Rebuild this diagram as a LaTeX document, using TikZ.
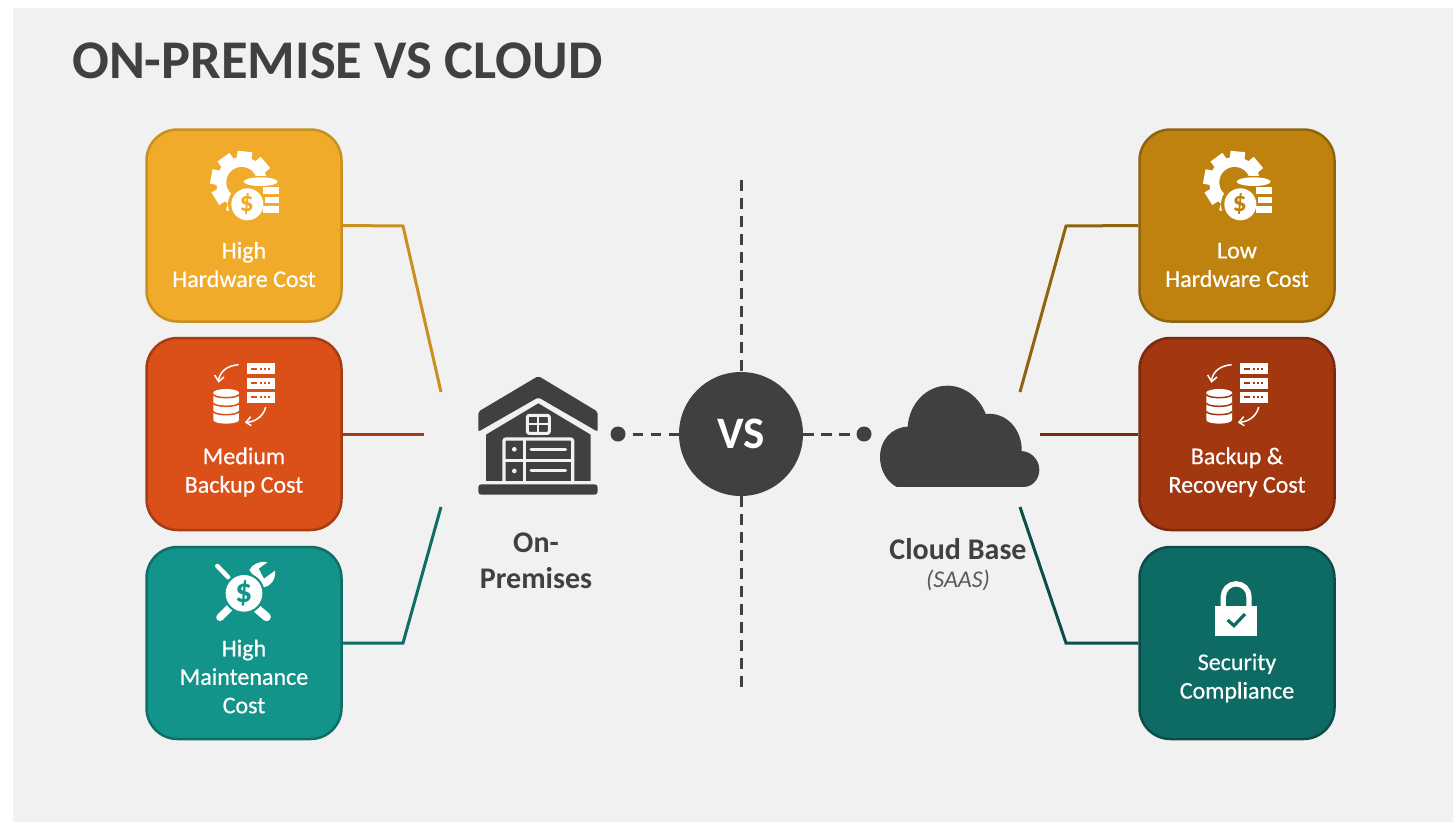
\documentclass[tikz,border=0pt]{standalone}
\usepackage{fontspec}
\setmainfont{Carlito}
\newfontfamily\boxfont[FakeBold=0.5]{Carlito}
\usepackage{xcolor}
\usetikzlibrary{positioning}

\definecolor{pagegray}{HTML}{F1F1F1}
\definecolor{inkgray}{HTML}{404040}
\definecolor{subgray}{HTML}{595959}
\definecolor{lhw}{HTML}{EFAB29}
\definecolor{lhwline}{HTML}{C99020}
\definecolor{lbk}{HTML}{DB4F18}
\definecolor{lbkline}{HTML}{A63C14}
\definecolor{lmt}{HTML}{12948A}
\definecolor{lmtline}{HTML}{0E6E66}
\definecolor{rhw}{HTML}{C0820E}
\definecolor{rhwline}{HTML}{8F640F}
\definecolor{rbk}{HTML}{A33710}
\definecolor{rbkline}{HTML}{7A2A0E}
\definecolor{rsc}{HTML}{0E6B64}
\definecolor{rscline}{HTML}{0A4E49}

\tikzset{
    costbox/.style={draw, rectangle, rounded corners=31pt, line width=2.5pt, minimum width=195pt, minimum height=192pt, inner sep=0pt},
    costtext/.style={text=white, align=center, font=\boxfont\fontsize{24}{28.5}\selectfont},
    sidetext/.style={text=inkgray, align=center, font=\bfseries\fontsize{30}{36}\selectfont},
    wire/.style={line width=3pt},
    axis/.style={inkgray, line width=3pt, dash pattern=on 10.5pt off 7.5pt},
    dotnode/.style={circle, fill=inkgray, inner sep=0pt, minimum size=15pt}
}

% Coin and gear icon: #1,#2 shift, #3 box colour, #4 name of dollar node
\newcommand{\coinicon}[4]{
    \begin{scope}[shift={(#1,#2)}, x=0.3333pt, y=-0.3333pt]
        \fill[white] (305,172) circle (76);
        \foreach \a in {27,68,106,148,191,234,276,320}
            \fill[white, rotate around={-\a:(305,172)}] (368,150) rectangle (398,194);
        \fill[#3] (305,172) circle (46);
        \fill[#3] (312,152) rectangle (425,275);
        \fill[#3] (322,238) circle (58);
        \fill[white] (322,238) circle (48);
        \fill[white] (362,170) ellipse (51 and 13);
        \fill[white] (370,187) rectangle (416,207);
        \fill[white] (375,216) rectangle (416,235);
        \fill[white] (370,244) rectangle (416,263);
        \node[text=#3, font=\bfseries\fontsize{28}{28}\selectfont, inner sep=0pt] (#4) at (320,236) {\$};
    \end{scope}
}

% Database and server icon
\newcommand{\backupicon}[3]{
    \begin{scope}[shift={(#1,#2)}, x=0.3333pt, y=-0.3333pt]
        \foreach \y in {85,128,170} {
            \fill[white] (320,\y) rectangle (406,\y+33);
            \fill[#3] (333,\y+13) rectangle (352,\y+19);
            \fill[#3] (360,\y+13) rectangle (367,\y+19);
            \fill[#3] (372,\y+13) rectangle (379,\y+19);
            \fill[#3] (384,\y+13) rectangle (391,\y+19);
        }
        \fill[white] (220,173) -- (220,255) arc[start angle=180, end angle=0, x radius=38.5, y radius=11] -- (297,173) arc[start angle=0, end angle=-180, x radius=38.5, y radius=11];
        \foreach \y in {178,204,229}
            \draw[#3, line width=1.5pt] (220,\y) arc[start angle=180, end angle=0, x radius=38.5, y radius=10];
        \draw[white, line width=1.5pt] (296,89) .. controls (262,92) and (240,108) .. (235,138);
        \draw[white, line width=1.5pt] (224,120) -- (236,140) -- (252,126);
        \draw[white, line width=1.5pt] (377,216) .. controls (372,240) and (350,260) .. (320,262);
        \draw[white, line width=1.5pt] (332,245) -- (318,262) -- (334,272);
    \end{scope}
}

\begin{document}
\begin{tikzpicture}[x=1pt, y=-1pt]
    \useasboundingbox (0,0) rectangle (1453,822);
    \fill[pagegray] (13,8) rectangle (1453,822);

    % Title
    \node[anchor=west, inner sep=0pt, text=inkgray, font=\bfseries\fontsize{54.5}{54.5}\selectfont] (title) at (72,61) {ON-PREMISE VS CLOUD};

    % On-Premises Side (Left)
    \node[costbox, fill=lhw, draw=lhwline] (lhwbox) at (244,225.5) {};
    \node[costbox, fill=lbk, draw=lbkline] (lbkbox) at (244,434) {};
    \node[costbox, fill=lmt, draw=lmtline] (lmtbox) at (244,643) {};
    \node[costtext] (lhwtext) at (244,264.5) {High\\Hardware Cost};
    \node[costtext] (lbktext) at (244,472) {Medium\\Backup Cost};
    \node[costtext] (lmttext) at (244,676.5) {High\\Maintenance\\Cost};

    % Cloud Side (Right)
    \node[costbox, fill=rhw, draw=rhwline] (rhwbox) at (1237,225.5) {};
    \node[costbox, fill=rbk, draw=rbkline] (rbkbox) at (1237,434) {};
    \node[costbox, fill=rsc, draw=rscline] (rscbox) at (1237,643) {};
    \node[costtext] (rhwtext) at (1237,265) {Low\\Hardware Cost};
    \node[costtext] (rbktext) at (1237,472) {Backup \&\\Recovery Cost};
    \node[costtext] (rsctext) at (1237,678) {Security\\Compliance};

    % Icons in the boxes
    \coinicon{140}{125}{lhw}{ldollar}
    \coinicon{1133}{125}{rhw}{rdollar}
    \backupicon{140}{335}{lbk}
    \backupicon{1133}{335}{rbk}

    % Tools around a coin
    \begin{scope}[shift={(140,540)}, x=0.3333pt, y=-0.3333pt]
        \draw[white, line width=4.5pt, line cap=round] (232,78) -- (265,112);
        \draw[white, line width=8.5pt, line cap=round] (352,207) -- (380,231);
        \draw[white, line width=7.5pt, line cap=round] (240,232) -- (272,200);
        \fill[white] (328,90) .. controls (338,72) and (358,62) .. (382,67) -- (356,86) -- (372,116) -- (405,92) .. controls (408,118) and (392,138) .. (372,142) -- (350,122) .. controls (345,112) and (335,100) .. (328,90) -- cycle;
        \fill[lmt] (312,160) circle (62);
        \fill[white] (312,160) circle (55);
        \node[text=lmt, font=\bfseries\fontsize{34}{34}\selectfont, inner sep=0pt] (tooldollar) at (311,161) {\$};
    \end{scope}

    % Lock
    \begin{scope}[shift={(1130,540)}, x=0.3333pt, y=-0.3333pt]
        \draw[white, line width=5.3pt] (280,198) -- (280,170) arc[start angle=180, end angle=360, radius=38.5] -- (357,198);
        \fill[white] (254,198) rectangle (382,287);
        \draw[rsc, line width=3.2pt] (293,240) -- (312,257) -- (345,222);
    \end{scope}

    % Garage
    \begin{scope}[shift={(460,360)}, x=0.3333pt, y=-0.3333pt]
        \fill[inkgray, rounded corners=2pt] (235,48) -- (413,155) -- (413,215) -- (235,112) -- (55,215) -- (55,155) -- cycle;
        \fill[inkgray] (78,224) -- (235,130) -- (392,224) -- (392,363) -- (78,363) -- cycle;
        \fill[inkgray, rounded corners=3pt] (55,373) rectangle (413,404);
        \draw[pagegray, line width=3pt, rounded corners=2pt] (202,166) rectangle (268,220);
        \draw[pagegray, line width=2.2pt] (235,166) -- (235,220) (202,193) -- (268,193);
        \draw[pagegray, line width=3.2pt, rounded corners=2pt] (338,366) -- (338,237) -- (132,237) -- (132,366);
        \draw[pagegray, line width=3.2pt] (132,302) -- (338,302) (193,237) -- (193,366);
        \fill[pagegray] (163,268) circle (7) (163,333) circle (7);
        \draw[pagegray, line width=3pt, line cap=round] (213,268) -- (317,268) (213,333) -- (317,333);
    \end{scope}

    % Cloud
    \begin{scope}[shift={(860,370)}, x=0.3333pt, y=-0.3333pt]
        \fill[inkgray] (110,351) .. controls (80,335) and (60,300) .. (60,262) .. controls (60,210) and (95,172) .. (143,170) .. controls (148,100) and (200,47) .. (262,47) .. controls (315,47) and (360,85) .. (377,132) .. controls (440,125) and (487,180) .. (485,243) .. controls (515,245) and (538,270) .. (538,300) .. controls (538,325) and (520,351) .. (490,351) -- cycle;
    \end{scope}

    % Labels under the icons
    \node[sidetext] (premtext) at (536,561) {On-\\Premises};
    \node[sidetext] (cloudtext) at (958,549) {Cloud Base};
    \node[text=subgray, font=\itshape\fontsize{24}{24}\selectfont, inner sep=0pt] (saastext) at (958,580) {(SAAS)};

    % VS in the middle
    \node[circle, fill=inkgray, minimum size=124pt, inner sep=0pt, text=white, font=\bfseries\fontsize{45}{45}\selectfont] (vs) at (741,434) {VS};
    \node[dotnode] (ldot) at (618,434) {};
    \node[dotnode] (rdot) at (864,434) {};
    \coordinate (axtop) at (741,180);
    \coordinate (axbot) at (741,690);
    \draw[axis] (axtop) -- (vs);
    \draw[axis] (vs) -- (axbot);
    \draw[axis, shorten <=7pt] (ldot) -- (vs);
    \draw[axis] (vs) -- (rdot);

    % Connections
    \coordinate (lhwbend) at (403,226);
    \coordinate (lhwend) at (441,392);
    \coordinate (lbkend) at (424,434);
    \coordinate (lmtbend) at (403,643);
    \coordinate (lmtend) at (441,507);
    \coordinate (rhwbend) at (1066,226);
    \coordinate (rhwend) at (1020,392);
    \coordinate (rbkend) at (1040,434);
    \coordinate (rscbend) at (1066,643);
    \coordinate (rscend) at (1020,507);
    \draw[wire, lhwline] (lhwbox.east) -- (lhwbend) -- (lhwend);
    \draw[wire, lbkline] (lbkbox.east) -- (lbkend);
    \draw[wire, lmtline] (lmtbox.east) -- (lmtbend) -- (lmtend);
    \draw[wire, rhwline] (rhwbox.west) -- (rhwbend) -- (rhwend);
    \draw[wire, rbkline] (rbkbox.west) -- (rbkend);
    \draw[wire, rscline] (rscbox.west) -- (rscbend) -- (rscend);
\end{tikzpicture}
\end{document}
